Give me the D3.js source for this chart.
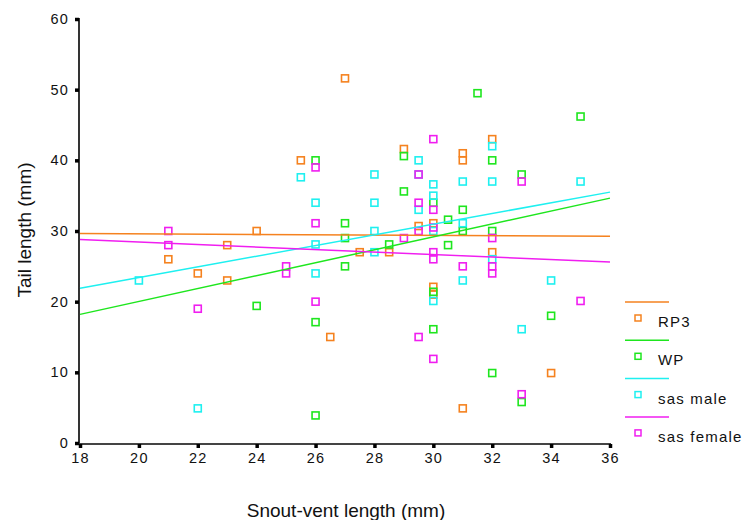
<!DOCTYPE html>
<html>
<head>
<meta charset="utf-8">
<script src="https://cdn.jsdelivr.net/npm/d3@7"></script>
<style>
  body{margin:0;background:#fff;}
  svg{display:block;font-family:"Liberation Sans",Arial,sans-serif;}
</style>
</head>
<body>
<svg id="chart"></svg>
<script>
// series: [snout-vent, tail]
let rp3=[[25.5,40],[24,30],[23,28],[21,26],[22,24],[23,23],[27,51.6],[27.5,27],[28.5,27],
  [29,41.6],[29.5,30.7],[30,31.1],[31,41],[31,40],[32,43],[32,27],[26.5,15],[30,22.1],
  [30,21],[31,4.9],[34,9.9]];
let wp=[[24,19.4],[26,40],[27,31.1],[27,29],[28.5,28.1],[29,40.6],[29,35.6],[30,34],
  [30.5,31.6],[31,30],[30.5,28],[27,25],[26,17.1],[30,16.1],[30,21.4],[26,3.9],[31.5,49.5],
  [35,46.2],[32,40],[33,38],[31,33],[32,30],[34,18],[32,9.9],[33,5.8]];
let sasMale=[[25.5,37.6],[20,23],[22,4.9],[28,38],[26,34],[28,34],[28,30],[26,28.1],[28,27],
  [29.5,40],[29.5,38],[30,36.6],[30,35],[29.5,33],[30,30],[31,37],[31,31.1],[32,42],[32,37],
  [32,26],[35,37],[26,24],[30,20.1],[31,23],[34,23],[33,16.1]];
let sasFemale=[[21,30],[21,28],[25,25],[25,24],[22,19],[26,39],[26,31.1],[29,29],[29.5,38],
  [30,43],[29.5,34],[30,33],[29.5,30],[30,30.5],[30,27],[30,26],[31,25],[32,29],[32,25],
  [32,24],[33,37],[26,20],[29.5,15],[30,11.9],[33,6.9],[35,20.1]];

// fit lines: value at x=18 and x=36
let fitX=[18,36];
let fitRp3=[29.65,29.25];
let fitWp=[18.2,34.65];
let fitMale=[21.9,35.5];
let fitFemale=[28.8,25.6];

let seriesNames=['RP3','WP','sas male','sas female'];
let colors=['#f5821f','#1ee61e','#1ef0f0','#f01ef0'];
let xTicks=[18,20,22,24,26,28,30,32,34,36];
let yTicks=[0,10,20,30,40,50,60];

let width=746;
let height=520;
const svg=d3.select('#chart').attr('width',width).attr('height',height);

let xScale=d3.scaleLinear().domain([18,36]).range([80,610]);
let yScale=d3.scaleLinear().domain([0,60]).range([443,19]);

// axes
let xAxis=d3.axisBottom(xScale).tickValues(xTicks).tickSize(4).tickPadding(5).tickFormat(d3.format('d'));
let yAxis=d3.axisLeft(yScale).tickValues(yTicks).tickSize(4).tickPadding(6);

let gx=svg.append('g').attr('transform','translate(0,444)').call(xAxis);
gx.select('.domain').attr('stroke','#444').attr('stroke-width',2).attr('d','M80,0H611');
gx.selectAll('.tick line').attr('stroke','#000').attr('stroke-width',3.5);
gx.selectAll('.tick text').attr('font-size',14.5).attr('letter-spacing',1.2).attr('fill','#111')
  .attr('font-family','Liberation Sans, Arial');

let gy=svg.append('g').attr('transform','translate(79,0)').call(yAxis);
gy.select('.domain').attr('stroke','#000').attr('stroke-width',1.6).attr('d','M0,18V444');
gy.selectAll('.tick line').attr('stroke','#000').attr('stroke-width',3.5);
gy.selectAll('.tick text').attr('font-size',14.5).attr('letter-spacing',1.2).attr('fill','#111')
  .attr('font-family','Liberation Sans, Arial');

// axis titles
svg.append('text').attr('x',346).attr('y',517).attr('text-anchor','middle')
  .attr('font-size',19).attr('fill','#111').text('Snout-vent length (mm)');
svg.append('text').attr('transform','translate(31,230) rotate(-90)').attr('text-anchor','middle')
  .attr('font-size',19).attr('fill','#111').text('Tail length (mm)');

// points
let allSeries=[rp3,wp,sasMale,sasFemale];
allSeries.forEach((data,i)=>{
  svg.append('g').selectAll('rect')
    .data(data)
    .enter()
    .append('rect')
    .attr('x',d=>xScale(d[0])-3.5)
    .attr('y',d=>yScale(d[1])-3.5)
    .attr('width',7)
    .attr('height',7)
    .attr('fill','none')
    .attr('stroke',colors[i])
    .attr('stroke-width',1.6);
});

// fit lines
let fits=[fitRp3,fitWp,fitMale,fitFemale];
let line=d3.line().x(d=>xScale(d[0])).y(d=>yScale(d[1]));
fits.forEach((f,i)=>{
  svg.append('path')
    .attr('d',line(fitX.map((x,j)=>[x,f[j]])))
    .attr('fill','none')
    .attr('stroke',colors[i])
    .attr('stroke-width',1.5);
});

// legend
let legend=svg.append('g').selectAll('g')
  .data(seriesNames)
  .enter()
  .append('g')
  .attr('transform',(d,i)=>'translate(625,'+(302+i*38.3)+')');
legend.append('line').attr('x1',0).attr('x2',44).attr('y1',0).attr('y2',0)
  .attr('stroke',(d,i)=>colors[i]).attr('stroke-width',1.5);
legend.append('rect').attr('x',10).attr('y',13).attr('width',6).attr('height',6)
  .attr('fill','none').attr('stroke',(d,i)=>colors[i]).attr('stroke-width',1.5);
legend.append('text').attr('x',33).attr('y',25).attr('font-size',15).attr('letter-spacing',1.2)
  .attr('fill','#111').text(d=>d);
</script>
</body>
</html>
